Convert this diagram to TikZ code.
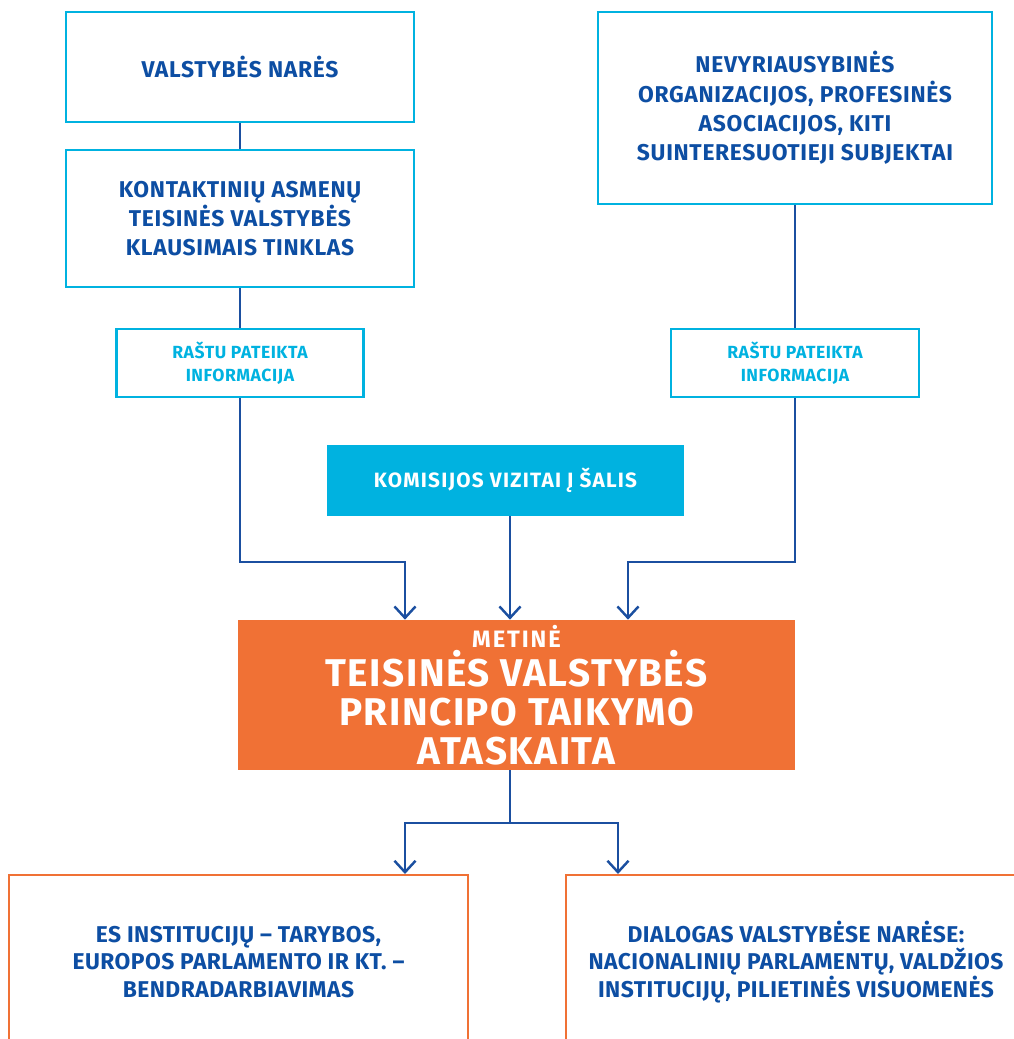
\documentclass[tikz,border=0pt]{standalone}
\usepackage{fontspec}
\setmainfont{Fira Sans}
\newfontfamily\spacedfont[LetterSpace=6]{Fira Sans}
\newfontfamily\spacedfontm[LetterSpace=8]{Fira Sans}
\newfontfamily\spacedfontb[LetterSpace=4]{Fira Sans}
\newfontfamily\blfont[LetterSpace=3]{Fira Sans}
\newfontfamily\btfont[LetterSpace=2]{Fira Sans}
\usetikzlibrary{arrows.meta}
\definecolor{cyanb}{HTML}{00B2E0}
\definecolor{dblue}{HTML}{0D4EA3}
\definecolor{lblue}{HTML}{1B4FA0}
\definecolor{orng}{HTML}{F07135}
\begin{document}
\begin{tikzpicture}[x=0.02cm,y=-0.02cm,
  cbox/.style={draw=cyanb,line width=1.6pt,inner sep=0pt,align=center,text=dblue,font=\blfont\bfseries\fontsize{13}{16.7}\selectfont},
  rbox/.style={draw=cyanb,line width=1.6pt,inner sep=0pt,align=center,text=cyanb,font=\blfont\bfseries\fontsize{10}{13}\selectfont},
  conn/.style={draw=lblue,line width=1.4pt},
  arr/.style={conn,-{Straight Barb[length=6.5pt,width=12pt]}},
  obox/.style={draw=orng,line width=1.6pt},
  btext/.style={text=dblue,align=center,font=\btfont\bfseries\fontsize{13}{15.6}\selectfont}]
\useasboundingbox (0,0) rectangle (1014,1039);
\node[cbox,minimum width=6.96cm,minimum height=2.2cm] (vn) at (240,67) {VALSTYBĖS NARĖS};
\node[cbox,minimum width=6.96cm,minimum height=2.74cm] (ka) at (240,218.5) {KONTAKTINIŲ ASMENŲ\\TEISINĖS VALSTYBĖS\\KLAUSIMAIS TINKLAS};
\node[rbox,minimum width=4.94cm,minimum height=1.36cm] (r1) at (240,363) {RAŠTU PATEIKTA\\INFORMACIJA};
\node[cbox,minimum width=7.88cm,minimum height=3.84cm] (nvo) at (795,108) {NEVYRIAUSYBINĖS\\ORGANIZACIJOS, PROFESINĖS\\ASOCIACIJOS, KITI\\SUINTERESUOTIEJI SUBJEKTAI};
\node[rbox,minimum width=4.96cm,minimum height=1.36cm] (r2) at (795,363) {RAŠTU PATEIKTA\\INFORMACIJA};
\node[fill=cyanb,text=white,inner sep=0pt,minimum width=7.16cm,minimum height=1.42cm,font=\spacedfont\bfseries\fontsize{11.8}{14}\selectfont] (kom) at (505.5,480.5) {KOMISIJOS VIZITAI Į ŠALIS};
\node[fill=orng,text=white,inner sep=0pt,minimum width=11.14cm,minimum height=3.0cm,align=center,font=\spacedfontb\bfseries\fontsize{22}{22}\selectfont] (ata) at (516.5,695) {\spacedfontm\bfseries\fontsize{13.5}{22}\selectfont METINĖ\\[0.5pt]TEISINĖS VALSTYBĖS\\PRINCIPO TAIKYMO\\ATASKAITA};
% bottom boxes (cut off by page edge)
\coordinate (bl1) at (9,1050);
\coordinate (bl2) at (468,1050);
\coordinate (br1) at (566,1050);
\coordinate (br2) at (1030,1050);
\draw[obox] (bl1) |- (468,875) -- (bl2);
\draw[obox] (br1) |- (1030,875) -- (br2);
\node[btext] (es) at (238.5,962) {ES INSTITUCIJŲ – TARYBOS,\\EUROPOS PARLAMENTO IR KT. –\\BENDRADARBIAVIMAS};
\node[btext] (dia) at (796,962) {DIALOGAS VALSTYBĖSE NARĖSE:\\NACIONALINIŲ PARLAMENTŲ, VALDŽIOS\\INSTITUCIJŲ, PILIETINĖS VISUOMENĖS};
\coordinate (esTop) at (405,874);
\coordinate (diaTop) at (618,874);
% connectors
\draw[conn] (vn.south) -- (ka.north);
\draw[conn] (ka.south) -- (r1.north);
\draw[conn] (nvo.south) -- (r2.north);
\draw[arr] (r1.south) -- (240,562) -| (ata.north -| 405,0);
\draw[arr] (r2.south) -- (795,562) -| (ata.north -| 628,0);
\draw[arr] (kom.south -| 510,0) -- (ata.north -| 510,0);
\draw[conn] (ata.south -| 510,0) -- (510,823);
\draw[arr] (510,823) -| (esTop);
\draw[arr] (510,823) -| (diaTop);
\end{tikzpicture}
\end{document}
